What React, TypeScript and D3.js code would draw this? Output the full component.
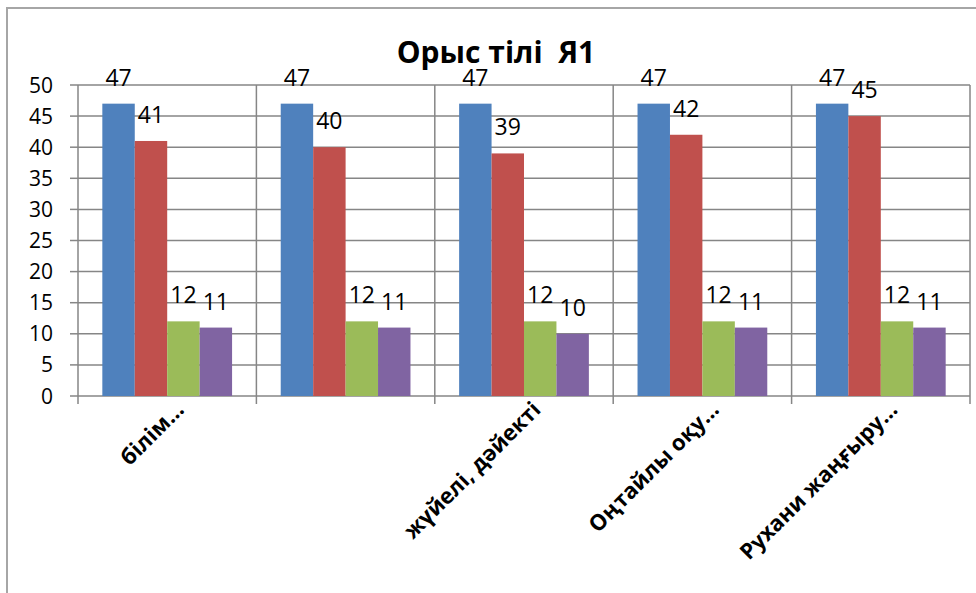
import * as d3 from 'd3';

const categories = ['білім…', '', 'жүйелі, дәйекті', 'Оңтайлы оқу…', 'Рухани жаңғыру…'];
const seriesKeys = ['s1', 's2', 's3', 's4'];
const seriesColors = ['#4F81BD', '#C0504D', '#9BBB59', '#8064A2'];
const series1 = [47, 47, 47, 47, 47];
const series2 = [41, 40, 39, 42, 45];
const series3 = [12, 12, 12, 12, 12];
const series4 = [11, 11, 10, 11, 11];
const yTicks = [0, 5, 10, 15, 20, 25, 30, 35, 40, 45, 50];
const title = 'Орыс тілі  Я1';

const W = 976;
const H = 593;
const FONT = "'Open Sans', 'Noto Sans', sans-serif";

export default function App() {
    const plot = { left: 78, right: 970, top: 85, bottom: 396 };
    const allSeries = [series1, series2, series3, series4];

    const x = d3.scaleBand<string>()
        .domain(categories.map((_, i) => String(i)))
        .range([plot.left, plot.right])
        .paddingInner(0)
        .paddingOuter(0);

    // 4 bars per category, gap of ~150% bar width split on both sides
    const xInner = d3.scaleBand<string>()
        .domain(seriesKeys)
        .range([0, x.bandwidth()])
        .paddingInner(0)
        .paddingOuter(0.75);

    const y = d3.scaleLinear().domain([0, 50]).range([plot.bottom, plot.top]);

    const boundaries = d3.range(categories.length + 1).map(i => plot.left + i * x.bandwidth());

    return (
        <div style={{ position: 'absolute', left: 0, top: 0 }}>
            <svg width={W} height={H} style={{ display: 'block', background: '#fff' }}>
                {/* outer chart border */}
                <path d={`M7,${H} L7,8 L${W},8`} fill="none" stroke="#a6a6a6" strokeWidth={2} />

                <text x={496} y={63} textAnchor="middle" fontFamily={FONT} fontWeight="bold" fontSize={30} fill="#000" style={{ whiteSpace: 'pre' }}>
                    {title}
                </text>

                {/* horizontal gridlines + y ticks */}
                {yTicks.map(t => (
                    <g key={t}>
                        <line x1={plot.left} x2={plot.right} y1={y(t)} y2={y(t)} stroke="#868686" strokeWidth={1.5} />
                        <line x1={70} x2={plot.left} y1={y(t)} y2={y(t)} stroke="#868686" strokeWidth={1.5} />
                        <text x={53} y={y(t)} dy="0.36em" textAnchor="end" fontFamily={FONT} fontSize={21} fill="#000">
                            {t}
                        </text>
                    </g>
                ))}

                {/* vertical gridlines + x ticks */}
                {boundaries.map((bx, i) => (
                    <line key={i} x1={bx} x2={bx} y1={plot.top} y2={plot.bottom + 8} stroke="#868686" strokeWidth={1.5} />
                ))}

                {/* bars */}
                {categories.map((_, ci) => (
                    <g key={ci} transform={`translate(${x(String(ci))},0)`}>
                        {seriesKeys.map((k, si) => {
                            const v = allSeries[si][ci];
                            return (
                                <rect key={k} x={xInner(k)} y={y(v)} width={xInner.bandwidth()} height={y(0) - y(v)} fill={seriesColors[si]} />
                            );
                        })}
                    </g>
                ))}

                {/* value labels */}
                {categories.map((_, ci) => (
                    <g key={ci} transform={`translate(${x(String(ci))},0)`}>
                        {seriesKeys.map((k, si) => {
                            const v = allSeries[si][ci];
                            return (
                                <text key={k} x={(xInner(k) ?? 0) + xInner.bandwidth() / 2} y={y(v) - 18} textAnchor="middle" fontFamily={FONT} fontSize={23} fill="#000">
                                    {v}
                                </text>
                            );
                        })}
                    </g>
                ))}

                {/* category labels, rotated -45 */}
                {categories.map((c, ci) => {
                    const cx = (x(String(ci)) ?? 0) + x.bandwidth() / 2 + 7;
                    const cy = 400;
                    return (
                        <text key={ci} x={cx} y={cy} transform={`rotate(-45,${cx},${cy})`} textAnchor="end" dy="0.71em" fontFamily={FONT} fontWeight="bold" fontSize={22} fill="#000">
                            {c}
                        </text>
                    );
                })}
            </svg>
        </div>
    );
}
